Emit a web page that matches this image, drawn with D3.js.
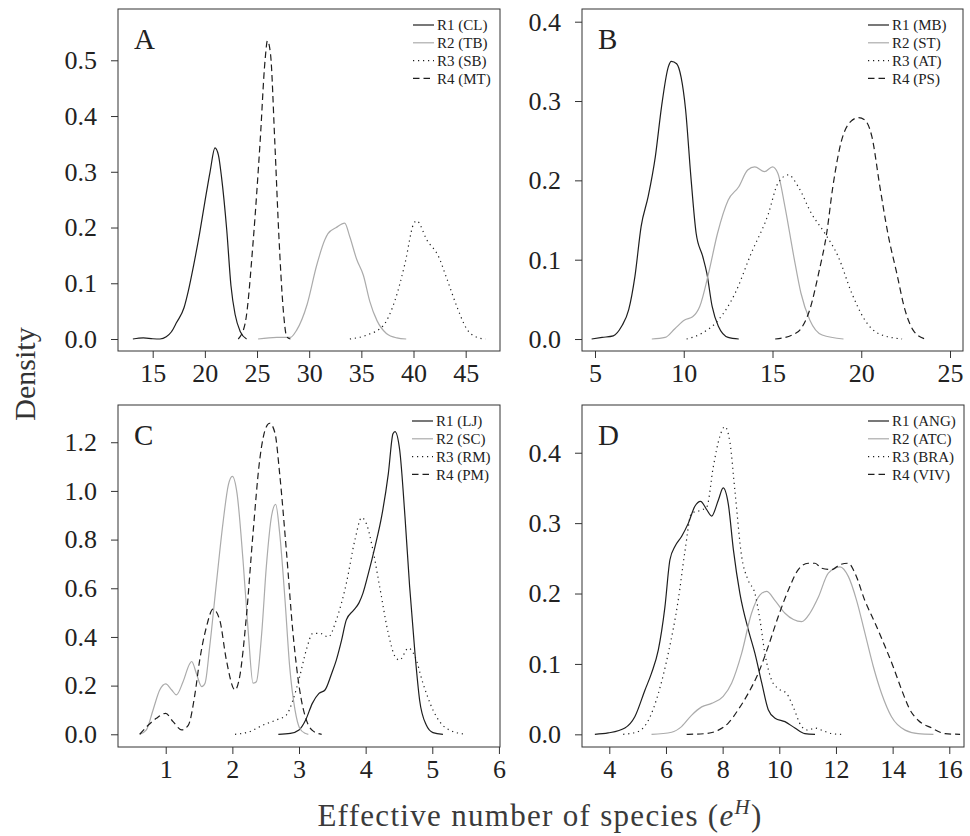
<!DOCTYPE html>
<html>
<head>
<meta charset="utf-8">
<script src="https://cdn.jsdelivr.net/npm/d3@7"></script>
<style>
  body { margin: 0; background: #fff; }
  svg { display: block; }
  text { font-family: "Liberation Serif", "Times New Roman", serif; fill: #222; }
</style>
</head>
<body>
<div id="chart"></div>
<script>
// --------------- Data ---------------
// Panel A
const aLabels = ["R1 (CL)", "R2 (TB)", "R3 (SB)", "R4 (MT)"];
const aXTicks = [15, 20, 25, 30, 35, 40, 45];
const aYTicks = [0, 0.1, 0.2, 0.3, 0.4, 0.5];
const aR1 = [[13.1,0],[14.1,0.002],[15.0,0.0005],[15.7,0],[16.3,0.004],[16.8,0.013],[17.3,0.03],[18.0,0.056],[18.4,0.085],[18.9,0.13],[19.5,0.19],[20.0,0.246],[20.5,0.3],[20.97,0.343],[21.3,0.33],[21.6,0.29],[22.1,0.195],[22.5,0.096],[22.9,0.044],[23.4,0.013],[24.0,0]];
const aR2 = [[25.1,0],[26.9,0.003],[28.2,0.003],[28.8,0.016],[29.8,0.062],[30.7,0.131],[31.5,0.178],[31.8,0.189],[32.6,0.2],[33.4,0.208],[33.9,0.183],[34.55,0.143],[35.2,0.114],[35.8,0.068],[36.5,0.033],[37.4,0.01],[38.4,0.002],[39.3,0]];
const aR3 = [[33.9,0],[35.5,0.007],[37.1,0.024],[38.2,0.068],[39.2,0.137],[40.0,0.206],[40.3,0.212],[41.3,0.177],[42.4,0.148],[43.2,0.108],[44.2,0.056],[45.1,0.018],[46.1,0.003],[46.9,0]];
const aR4 = [[23.2,0],[23.85,0.027],[24.65,0.18],[25.3,0.355],[25.77,0.5],[26.0,0.535],[26.3,0.51],[26.7,0.355],[27.1,0.183],[27.5,0.056],[27.85,0.004],[28.2,0]];

// Panel B
const bLabels = ["R1 (MB)", "R2 (ST)", "R3 (AT)", "R4 (PS)"];
const bXTicks = [5, 10, 15, 20, 25];
const bYTicks = [0, 0.1, 0.2, 0.3, 0.4];
const bR1 = [[4.81,0],[5.4,0.002],[6.03,0.004],[6.5,0.016],[6.9,0.037],[7.25,0.079],[7.6,0.142],[8.0,0.18],[8.4,0.23],[8.75,0.293],[9.13,0.343],[9.3,0.35],[9.6,0.347],[9.85,0.33],[10.1,0.29],[10.4,0.205],[10.7,0.133],[11.07,0.104],[11.3,0.083],[11.6,0.041],[11.95,0.016],[12.5,0.002],[13.1,0]];
const bR2 = [[8.2,0],[8.95,0.002],[9.5,0.013],[10.05,0.024],[10.5,0.028],[10.9,0.041],[11.4,0.083],[11.9,0.133],[12.5,0.175],[13.1,0.192],[13.6,0.213],[14.0,0.217],[14.55,0.211],[15.0,0.217],[15.3,0.209],[15.7,0.167],[16.2,0.104],[16.6,0.058],[17.1,0.024],[17.8,0.005],[19.0,0]];
const bR3 = [[10.16,0],[11.0,0.007],[11.95,0.024],[12.9,0.058],[13.8,0.108],[14.77,0.158],[15.3,0.196],[15.9,0.207],[16.45,0.192],[17.2,0.158],[17.96,0.133],[18.7,0.104],[19.46,0.058],[20.2,0.024],[20.96,0.007],[22.3,0]];
const bR4 = [[15.15,0],[16.1,0.005],[16.6,0.013],[17.1,0.037],[17.6,0.083],[18.05,0.133],[18.4,0.192],[18.9,0.251],[19.4,0.274],[19.84,0.279],[20.2,0.276],[20.6,0.255],[21.05,0.192],[21.5,0.133],[22.0,0.083],[22.46,0.037],[22.93,0.011],[23.6,0]];

// Panel C
const cLabels = ["R1 (LJ)", "R2 (SC)", "R3 (RM)", "R4 (PM)"];
const cXTicks = [1, 2, 3, 4, 5, 6];
const cYTicks = [0, 0.2, 0.4, 0.6, 0.8, 1.0, 1.2];
const cR1 = [[2.69,0],[2.87,0.004],[3.0,0.018],[3.1,0.059],[3.2,0.127],[3.3,0.168],[3.39,0.182],[3.49,0.25],[3.56,0.305],[3.64,0.388],[3.71,0.47],[3.82,0.51],[3.9,0.54],[3.96,0.58],[4.04,0.66],[4.14,0.77],[4.24,0.895],[4.34,1.07],[4.41,1.235],[4.44,1.244],[4.51,1.17],[4.59,0.895],[4.66,0.607],[4.74,0.333],[4.81,0.14],[4.91,0.038],[5.01,0.007],[5.16,0]];
const cR2 = [[0.61,0],[0.71,0.018],[0.81,0.1],[0.91,0.182],[1.0,0.207],[1.09,0.182],[1.16,0.162],[1.26,0.216],[1.36,0.29],[1.39,0.299],[1.46,0.25],[1.54,0.196],[1.59,0.21],[1.66,0.36],[1.76,0.62],[1.86,0.87],[1.94,1.025],[2.0,1.06],[2.07,0.99],[2.16,0.715],[2.24,0.414],[2.31,0.21],[2.36,0.216],[2.44,0.414],[2.51,0.69],[2.59,0.9],[2.65,0.945],[2.71,0.826],[2.79,0.552],[2.86,0.278],[2.94,0.1],[3.01,0.025],[3.09,0.004],[3.14,0]];
const cR3 = [[2.04,0],[2.26,0.011],[2.46,0.038],[2.66,0.059],[2.81,0.079],[2.91,0.141],[3.01,0.237],[3.11,0.347],[3.21,0.415],[3.31,0.415],[3.44,0.4],[3.56,0.47],[3.71,0.62],[3.84,0.8],[3.94,0.89],[4.01,0.866],[4.11,0.756],[4.21,0.607],[4.34,0.415],[4.44,0.32],[4.51,0.305],[4.64,0.354],[4.74,0.32],[4.86,0.21],[5.01,0.1],[5.21,0.025],[5.49,0]];
const cR4 = [[0.61,0],[0.74,0.038],[0.86,0.066],[1.0,0.086],[1.11,0.052],[1.24,0.018],[1.34,0.038],[1.44,0.168],[1.51,0.305],[1.61,0.44],[1.71,0.514],[1.81,0.47],[1.91,0.305],[2.04,0.182],[2.11,0.237],[2.21,0.483],[2.31,0.826],[2.41,1.127],[2.51,1.264],[2.56,1.278],[2.64,1.237],[2.71,1.07],[2.81,0.756],[2.91,0.415],[3.01,0.182],[3.11,0.059],[3.21,0.014],[3.34,0]];

// Panel D
const dLabels = ["R1 (ANG)", "R2 (ATC)", "R3 (BRA)", "R4 (VIV)"];
const dXTicks = [4, 6, 8, 10, 12, 14, 16];
const dYTicks = [0, 0.1, 0.2, 0.3, 0.4];
const dR1 = [[3.49,0],[3.96,0.002],[4.55,0.009],[4.9,0.025],[5.26,0.063],[5.49,0.087],[5.73,0.12],[5.96,0.18],[6.14,0.248],[6.32,0.267],[6.55,0.281],[6.79,0.3],[7.02,0.324],[7.22,0.331],[7.44,0.319],[7.61,0.31],[7.85,0.333],[8.02,0.35],[8.2,0.327],[8.38,0.262],[8.61,0.2],[8.91,0.148],[9.14,0.115],[9.38,0.073],[9.61,0.035],[9.85,0.023],[10.2,0.018],[10.55,0.009],[10.9,0.001],[11.26,0]];
const dR2 = [[5.49,0],[6.2,0.003],[6.55,0.011],[6.9,0.027],[7.26,0.039],[7.61,0.044],[8.02,0.054],[8.32,0.073],[8.67,0.115],[9.02,0.172],[9.32,0.198],[9.55,0.203],[9.85,0.19],[10.2,0.172],[10.5,0.163],[10.79,0.16],[11.08,0.172],[11.38,0.195],[11.73,0.229],[12.14,0.238],[12.44,0.224],[12.73,0.19],[13.02,0.144],[13.32,0.096],[13.61,0.058],[13.96,0.025],[14.44,0.006],[14.9,0.001],[15.44,0]];
const dR3 = [[4.49,0],[5.02,0.004],[5.38,0.02],[5.73,0.058],[6.08,0.115],[6.43,0.19],[6.67,0.26],[6.9,0.314],[7.2,0.318],[7.44,0.323],[7.67,0.38],[7.9,0.423],[8.08,0.437],[8.26,0.414],[8.44,0.343],[8.67,0.253],[8.9,0.219],[9.14,0.2],[9.32,0.162],[9.49,0.115],[9.73,0.077],[9.96,0.065],[10.26,0.058],[10.49,0.039],[10.79,0.011],[11.02,0.006],[11.26,0.009],[11.49,0.006],[11.85,0.001],[12.2,0]];
const dR4 = [[6.73,0],[7.38,0.001],[7.85,0.006],[8.2,0.016],[8.55,0.035],[8.9,0.058],[9.26,0.087],[9.61,0.125],[9.96,0.167],[10.32,0.205],[10.67,0.234],[11.02,0.243],[11.26,0.243],[11.49,0.236],[11.85,0.234],[12.14,0.241],[12.44,0.243],[12.67,0.229],[13.02,0.19],[13.38,0.158],[13.73,0.125],[14.02,0.096],[14.32,0.063],[14.61,0.035],[14.9,0.02],[15.38,0.009],[15.85,0.001],[16.38,0]];

// --------------- Constants ---------------
const WIDTH = 970;
const HEIGHT = 836;
const BLACK = "#1e1e1e";
const GREY = "#ababab";
const FRAME = "#333";

// R-style line types for R1..R4
const STYLES = [
  { color: BLACK, dash: null },
  { color: GREY, dash: null },
  { color: BLACK, dash: "1.2,3.8" },
  { color: BLACK, dash: "6.5,4" },
];

const fmt1 = d3.format(".1f");
const fmtInt = d3.format("d");

const panels = [
  { letter: "A", box: [118, 500, 9, 351], xDom: [11.674, 48.29], yDom: [-0.0215, 0.592],
    xTicks: aXTicks, yTicks: aYTicks, labels: aLabels,
    series: [aR1, aR2, aR3, aR4], legendX: 413 },
  { letter: "B", box: [582, 963, 9, 351], xDom: [4.268, 25.732], yDom: [-0.0151, 0.416],
    xTicks: bXTicks, yTicks: bYTicks, labels: bLabels,
    series: [bR1, bR2, bR3, bR4], legendX: 868 },
  { letter: "C", box: [118, 500, 405, 747], xDom: [0.284, 6.016], yDom: [-0.0522, 1.353],
    xTicks: cXTicks, yTicks: cYTicks, labels: cLabels,
    series: [cR1, cR2, cR3, cR4], legendX: 412 },
  { letter: "D", box: [582, 964, 405, 747], xDom: [3.036, 16.519], yDom: [-0.018, 0.4678],
    xTicks: dXTicks, yTicks: dYTicks, labels: dLabels,
    series: [dR1, dR2, dR3, dR4], legendX: 868 },
];

const svg = d3
  .select("#chart")
  .append("svg")
  .attr("width", WIDTH)
  .attr("height", HEIGHT);

function styleAxis(sel) {
  sel.select(".domain").remove();
  sel.selectAll("line").attr("stroke", FRAME);
  sel.selectAll("text").attr("font-size", 26).attr("fill", "#222")
    .attr("font-family", '"Liberation Serif", serif');
}

function renderPanel(p) {
  const [x0, x1, y0, y1] = p.box;
  const x = d3.scaleLinear().domain(p.xDom).range([x0, x1]);
  const y = d3.scaleLinear().domain(p.yDom).range([y1, y0]);
  const g = svg.append("g");

  // axes
  const xAxis = d3.axisBottom(x).tickValues(p.xTicks).tickFormat(fmtInt)
    .tickSize(7).tickPadding(6).tickSizeOuter(0);
  g.append("g").attr("transform", `translate(0,${y1})`).call(xAxis).call(styleAxis);

  const yAxis = d3.axisLeft(y).tickValues(p.yTicks).tickFormat(fmt1)
    .tickSize(7).tickPadding(14).tickSizeOuter(0);
  g.append("g").attr("transform", `translate(${x0},0)`).call(yAxis).call(styleAxis);

  // frame
  g.append("rect")
    .attr("x", x0).attr("y", y0)
    .attr("width", x1 - x0).attr("height", y1 - y0)
    .attr("fill", "none").attr("stroke", FRAME).attr("stroke-width", 1);

  // density curves
  const line = d3.line()
    .x((d) => x(d[0]))
    .y((d) => y(d[1]))
    .curve(d3.curveMonotoneX);

  g.append("g")
    .selectAll("path")
    .data(p.series)
    .enter()
    .append("path")
    .attr("d", line)
    .attr("fill", "none")
    .attr("stroke", (_d, i) => STYLES[i].color)
    .attr("stroke-width", 1.2)
    .attr("stroke-dasharray", (_d, i) => STYLES[i].dash);

  // panel letter
  g.append("text")
    .attr("x", x0 + 16)
    .attr("y", y0 + 40)
    .attr("font-size", 29)
    .text(p.letter);

  // legend
  const lg = g.append("g")
    .selectAll("g")
    .data(p.labels)
    .enter()
    .append("g")
    .attr("transform", (_d, i) => `translate(${p.legendX},${y0 + 16 + i * 17.8})`);
  lg.append("line")
    .attr("x1", 0).attr("x2", 21)
    .attr("stroke", (_d, i) => STYLES[i].color)
    .attr("stroke-width", 1.2)
    .attr("stroke-dasharray", (_d, i) => STYLES[i].dash);
  lg.append("text")
    .attr("x", 24)
    .attr("dy", "0.35em")
    .attr("font-size", 15)
    .text((d) => d);
}

panels.forEach(renderPanel);

// axis titles
svg.append("text")
  .attr("transform", "translate(35,374) rotate(-90)")
  .attr("text-anchor", "middle")
  .attr("font-size", 30)
  .style("fill", "#333")
  .text("Density");

const xt = svg.append("text")
  .attr("x", 540)
  .attr("y", 826)
  .attr("text-anchor", "middle")
  .attr("font-size", 31)
  .attr("letter-spacing", 1.3)
  .style("fill", "#3a3a3a");
xt.append("tspan").text("Effective number of species (");
xt.append("tspan").attr("font-style", "italic").text("e");
xt.append("tspan").attr("font-style", "italic").attr("font-size", 21).attr("dy", -12).text("H");
xt.append("tspan").attr("dy", 12).text(")");
</script>
</body>
</html>
